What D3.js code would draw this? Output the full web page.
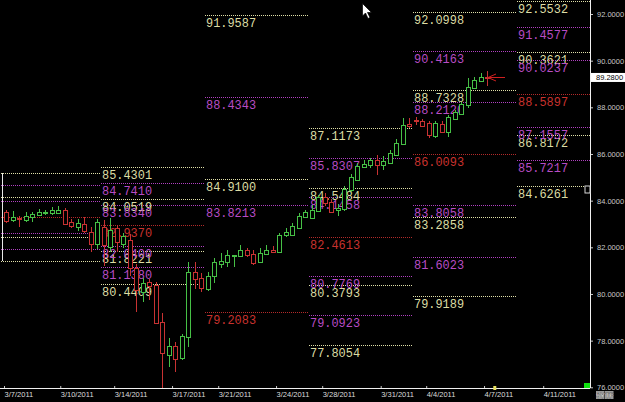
<!DOCTYPE html>
<html><head><meta charset="utf-8">
<script src="https://cdn.jsdelivr.net/npm/d3@7"></script>
<style>html,body{margin:0;padding:0;background:#000;overflow:hidden}</style>
</head><body><svg id="c" width="625" height="402"></svg>
<script>
// ---- candle data (8-hour bars, index 0..74) ----
const opens  = [83.51,83.17,83.27,83.18,83.31,83.39,83.47,83.47,83.50,83.60,83.07,82.88,82.99,82.67,82.14,82.87,82.01,82.81,82.16,82.31,81.11,80.09,80.53,80.39,78.81,77.39,77.77,77.24,78.14,80.93,80.67,80.20,80.77,81.31,81.38,81.61,81.63,81.89,81.70,81.34,81.70,81.89,81.81,82.49,82.53,82.81,83.31,83.24,83.53,84.14,83.96,83.58,83.62,84.44,84.89,85.46,85.53,85.74,85.51,85.63,85.96,86.43,87.29,87.46,87.41,87.32,86.74,87.29,86.96,87.49,87.70,88.06,88.82,89.13,89.30];
const highs  = [83.60,83.57,83.34,83.51,83.51,83.64,83.62,83.73,83.75,83.69,83.21,83.21,83.30,82.87,83.21,83.17,83.26,82.96,82.61,82.55,81.30,80.69,80.64,80.53,79.19,78.11,77.96,78.29,81.37,81.38,80.90,80.94,81.54,81.77,81.89,81.67,82.10,81.97,81.89,81.97,82.10,82.06,82.61,82.81,83.03,83.48,83.60,83.81,84.24,84.33,84.07,83.86,84.63,85.14,85.61,85.74,85.83,85.96,85.91,86.17,86.63,87.53,87.54,87.59,87.50,87.41,87.41,87.41,87.67,87.89,88.23,89.24,89.30,89.46,89.56];
const lows   = [83.04,83.07,82.88,83.09,83.09,83.34,83.39,83.39,83.47,82.96,82.83,82.70,82.61,81.80,81.93,81.20,81.80,81.80,81.97,80.77,79.24,79.66,79.74,78.71,75.90,76.87,76.67,77.17,77.73,80.21,80.09,80.13,80.47,81.11,81.17,81.17,81.57,81.59,81.24,81.33,81.67,81.76,81.80,82.44,82.49,82.79,83.30,83.21,83.51,83.77,83.47,83.34,83.56,84.37,84.84,85.40,85.40,85.10,85.31,85.57,85.91,86.39,87.11,87.24,87.16,86.69,86.69,86.90,86.74,87.46,87.67,87.97,88.79,89.09,88.91];
const closes = [83.13,83.29,83.21,83.34,83.43,83.50,83.53,83.58,83.61,83.00,82.90,83.06,82.67,82.17,83.10,82.08,82.74,82.21,82.49,81.11,80.17,80.47,80.34,78.78,77.46,77.77,77.23,78.20,80.94,80.63,80.26,80.77,81.37,81.43,81.67,81.65,81.89,81.67,81.31,81.74,81.89,81.82,82.53,82.64,82.91,83.34,83.53,83.60,84.14,83.90,83.53,83.67,84.49,85.00,85.49,85.57,85.74,85.53,85.70,86.06,86.46,87.24,87.21,87.41,87.21,86.81,87.31,86.93,87.60,87.81,88.13,88.85,89.17,89.31,89.28];
const lastPrice = 89.28;

// ---- x axis ticks (bar-index positions) ----
const dateTicks  = [-0.35, 8.3, 16.6, 25.5, 32.6, 41.5, 48.6, 57.6, 64.6, 73.5, 82.6];
const dateLabels = ["3/7/2011","3/10/2011","3/14/2011","3/17/2011","3/21/2011","3/24/2011","3/28/2011","3/31/2011","4/4/2011","4/7/2011","4/11/2011"];
const priceTicks = [76,78,80,82,84,86,88,90,92];

// ---- weekly pivot levels ----
const weekStart = [-1.5, 14.5, 30.5, 46.5, 62.5, 78.5];
const weekEnd   = [14.5, 30.5, 46.5, 62.5, 78.5, 89.8];
const weekLabeled = [false, true, true, true, true, true];
const pivotLevels = [83.30, 82.9370, 79.2083, 82.4613, 86.0093, 88.5897];
const magentaLevels = [
  [84.66, 83.98, 82.62, 81.94],
  [84.7410, 83.8340, 82.0400, 81.1380],
  [88.4343, 83.8213],
  [85.8307, 84.1458, 80.7769, 79.0923],
  [90.4163, 88.2120, 83.8058, 81.6023],
  [91.4577, 90.0237, 87.1557, 85.7217]
];
const khakiLevels = [
  [85.18, 84.14, 82.46, 81.42],
  [85.4301, 84.0519, 81.8221, 80.4409],
  [91.9587, 84.9100],
  [87.1173, 84.5484, 80.3793, 77.8054],
  [92.0998, 88.7328, 83.2858, 79.9189],
  [92.5532, 90.3621, 86.8172, 84.6261]
];

// ---- drawing ----
const W = 625, H = 402, plotR = 590, plotB = 388;
const svg = d3.select("#c");
svg.append("rect").attr("width", W).attr("height", H).attr("fill", "#000");

const x = d3.scaleLinear().domain([0, 74]).range([6.3, 487.3]);
const y = d3.scaleLinear().domain([76, 92]).range([387.3, 14]);

svg.append("clipPath").attr("id", "plot").append("rect")
  .attr("x", 0).attr("y", 0).attr("width", plotR).attr("height", plotB);
const g = svg.append("g").attr("clip-path", "url(#plot)");

const colors = { khaki: "#dcdca4", magenta: "#b84cc4", red: "#c8322e" };
const lineColors = { khaki: "#e0e0a8", magenta: "#b040c0", red: "#b42a2a" };

// left vertical marker for first week
g.append("line").attr("x1", 2.5).attr("x2", 2.5)
  .attr("y1", y(d3.max(khakiLevels[0]))).attr("y2", y(d3.min(khakiLevels[0])))
  .attr("stroke", "#e8e8e8").attr("stroke-width", 1).attr("shape-rendering", "crispEdges");

const levelRows = [];
weekStart.forEach((ws, w) => {
  khakiLevels[w].forEach(v => levelRows.push({ w, v, kind: "khaki" }));
  magentaLevels[w].forEach(v => levelRows.push({ w, v, kind: "magenta" }));
  levelRows.push({ w, v: pivotLevels[w], kind: "red" });
});

g.selectAll("line.lvl").data(levelRows).join("line").attr("class", "lvl")
  .attr("x1", d => Math.round(x(weekStart[d.w]))).attr("x2", d => Math.round(x(weekEnd[d.w])))
  .attr("y1", d => Math.round(y(d.v)) + 0.5).attr("y2", d => Math.round(y(d.v)) + 0.5)
  .attr("stroke", d => lineColors[d.kind]).attr("stroke-width", 1)
  .attr("stroke-dasharray", "1,1").attr("shape-rendering", "crispEdges");

g.selectAll("text.lvl").data(levelRows.filter(d => weekLabeled[d.w])).join("text").attr("class", "lvl")
  .attr("x", d => x(weekStart[d.w]) + 1.5).attr("y", d => y(d.v) + 12)
  .attr("fill", d => colors[d.kind])
  .attr("font-family", "Liberation Mono, DejaVu Sans Mono, monospace")
  .attr("font-size", 12.5)
  .attr("textLength", 50).attr("lengthAdjust", "spacingAndGlyphs")
  .text(d => d.v.toFixed(4));

// candles
const candles = opens.map((o, i) => ({ i, o, h: highs[i], l: lows[i], c: closes[i] }));
const cg = g.append("g").attr("shape-rendering", "crispEdges");
const cc = d => d.c >= d.o ? "#46c046" : "#c83232";
cg.selectAll("line.wick").data(candles).join("line").attr("class", "wick")
  .attr("x1", d => Math.round(x(d.i)) + 0.5).attr("x2", d => Math.round(x(d.i)) + 0.5)
  .attr("y1", d => y(d.h)).attr("y2", d => y(d.l))
  .attr("stroke", cc).attr("stroke-width", 1);
cg.selectAll("rect.body").data(candles).join("rect").attr("class", "body")
  .attr("x", d => Math.round(x(d.i)) - 1.5).attr("width", 4)
  .attr("y", d => Math.round(y(Math.max(d.o, d.c))) + 0.5)
  .attr("height", d => Math.max(1, Math.round(Math.abs(y(d.o) - y(d.c)))))
  .attr("fill", "#000").attr("stroke", cc).attr("stroke-width", 1);

// last price red arrow
const ax = Math.round(x(candles.length - 1)), ay = Math.round(y(lastPrice)) + 0.5;
g.append("path")
  .attr("d", `M${ax},${ay} L${ax + 18},${ay} M${ax + 1},${ay} L${ax + 9},${ay - 3.5} M${ax + 1},${ay} L${ax + 9},${ay + 3.5}`)
  .attr("stroke", "#d02020").attr("fill", "none").attr("stroke-width", 1);

// axes
const yAxis = d3.axisRight(y).tickValues(priceTicks).tickFormat(d3.format(".4f"))
  .tickSize(3).tickPadding(4);
const ya = svg.append("g").attr("transform", `translate(${plotR},0)`).call(yAxis);
ya.select(".domain").remove();
ya.selectAll("line").attr("stroke", "#c8c8c8");
ya.selectAll("text").attr("fill", "#c8c8c8").attr("font-family", "Liberation Sans, Arial, sans-serif").attr("font-size", 7.5);

const xAxis = d3.axisBottom(x).tickValues(dateTicks).tickFormat((d, i) => dateLabels[i]).tickSize(-2).tickPadding(4);
const xa = svg.append("g").attr("transform", `translate(0,${plotB})`).call(xAxis);
xa.select(".domain").remove();
xa.selectAll("line").attr("stroke", "#c8c8c8");
xa.selectAll("text").attr("fill", "#dcdcdc").attr("text-anchor", "start").attr("y", 4).attr("dy", "0.71em")
  .attr("font-family", "Liberation Sans, Arial, sans-serif").attr("font-size", 7.5);

svg.append("line").attr("x1", plotR + 0.5).attr("x2", plotR + 0.5).attr("y1", 0).attr("y2", plotB)
  .attr("stroke", "#f0f0f0").attr("stroke-width", 1);
svg.append("line").attr("x1", 0).attr("x2", plotR).attr("y1", plotB + 0.5).attr("y2", plotB + 0.5)
  .attr("stroke", "#f0f0f0").attr("stroke-width", 1);

// last price box on axis
const lp = svg.append("g");
lp.append("rect").attr("x", plotR + 1).attr("y", y(lastPrice) - 4.5).attr("width", 34).attr("height", 9)
  .attr("fill", "#fff");
lp.append("text").attr("x", plotR + 6).attr("y", y(lastPrice) + 3).attr("fill", "#000")
  .attr("font-family", "Liberation Sans, Arial, sans-serif").attr("font-size", 7.5)
  .text(d3.format(".4f")(lastPrice));

// small marker on axis
svg.append("rect").attr("x", 585).attr("y", 186).attr("width", 5).attr("height", 7)
  .attr("fill", "#000").attr("stroke", "#d8d8d8").attr("stroke-width", 1);

// current bar marker on time axis
svg.append("rect").attr("x", x(74) + 6).attr("y", plotB - 2).attr("width", 3).attr("height", 4).attr("fill", "#e8e060");

// green square corner
svg.append("rect").attr("x", 584).attr("y", 383).attr("width", 6).attr("height", 5).attr("fill", "#10e010");

// SY / TF buttons
[["SY", 596], ["TF", 605]].forEach(([t, bx]) => {
  svg.append("rect").attr("x", bx).attr("y", 391).attr("width", 8.5).attr("height", 8).attr("fill", "#9a9a9a");
  svg.append("text").attr("x", bx + 4.25).attr("y", 398).attr("text-anchor", "middle")
    .attr("fill", "#fff").attr("font-family", "Liberation Sans, Arial, sans-serif").attr("font-weight", "bold")
    .attr("font-size", 6.5).attr("stroke", "#333").attr("stroke-width", 0.3).text(t);
});

// mouse cursor
svg.append("path").attr("d", "M362.5,3.5 L362.5,16 L365.5,13 L368,18.5 L370,17.5 L367.5,12.5 L371.5,12.5 Z")
  .attr("fill", "#fff").attr("stroke", "#000").attr("stroke-width", 0.7);
</script></body></html>
